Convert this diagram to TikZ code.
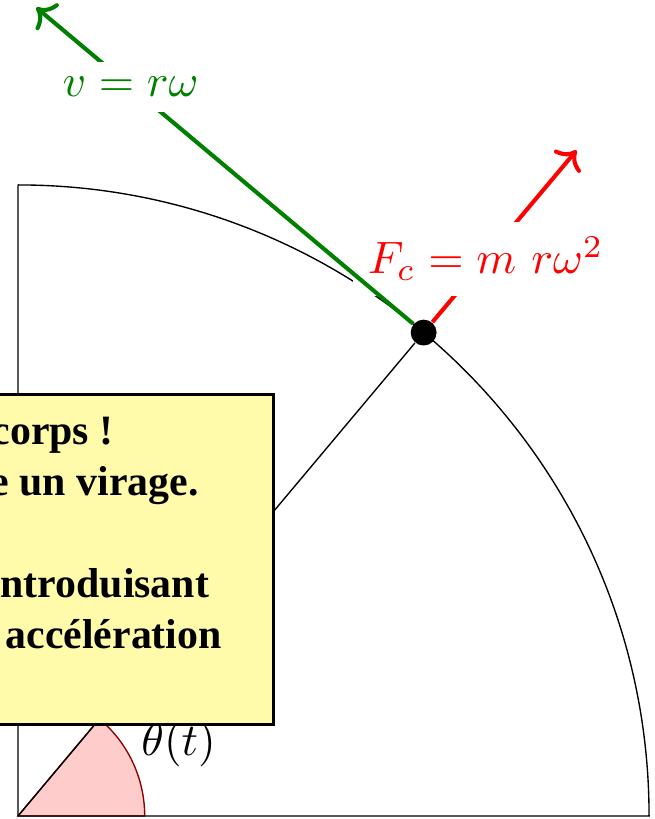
\documentclass[tikz,border=0pt]{standalone}
\usepackage{fontspec}
\newfontfamily\notefont{Liberation Serif}
\usetikzlibrary{arrows.meta,positioning}
\definecolor{noteyellow}{RGB}{255,251,170}
\begin{document}
\begin{tikzpicture}[line width=0.3pt,
  vec/.style={->,line width=0.9pt},
  lab/.style={fill=white},
  dot/.style={circle,fill=black,inner sep=0pt,minimum size=2mm},
  notebox/.style={draw,line width=0.6pt,fill=noteyellow,minimum width=26mm,minimum height=25.5mm},
  notetext/.style={align=left,inner sep=0pt,font=\notefont\bfseries\fontsize{9.2}{11.2}\selectfont}]
\useasboundingbox (-0.139,-0.023) rectangle (4.926,6.310);
\coordinate (O) at (0,0);
\coordinate (top) at (0,4.88);
\coordinate (right) at (4.88,0);
\filldraw[draw=red!55!black,fill=red!20] (O) -- (0.98,0) arc[start angle=0,end angle=50,radius=0.98] -- cycle;
\draw (top) -- (O) -- (right) arc[start angle=0,end angle=90,radius=4.88];
\node[dot] (P) at (50:4.88) {};
\draw (O) -- (P);
\node (theta) at (24:1.36) {$\theta(t)$};
\path (P) ++(140:3.91) coordinate (vtip);
\path (P) ++(50:1.84) coordinate (ftip);
\draw[vec,red] (P) -- node[lab,pos=0.37]{$F_c=m\ r\omega^2$} (ftip);
\draw[vec,green!50!black] (P) -- node[lab,pos=0.75]{$v=r\omega$} (vtip);
\node[notebox,anchor=north east] (note) at (1.987,3.271) {};
\node[notetext,anchor=base west] (msg) at (-0.139,1.299) {\hspace*{-2pt}corps !\\\hspace*{-2.2pt}e un virage.\\[11.2pt]ntroduisant\\\hspace*{1.1pt}acc\'el\'eration};
\end{tikzpicture}
\end{document}
